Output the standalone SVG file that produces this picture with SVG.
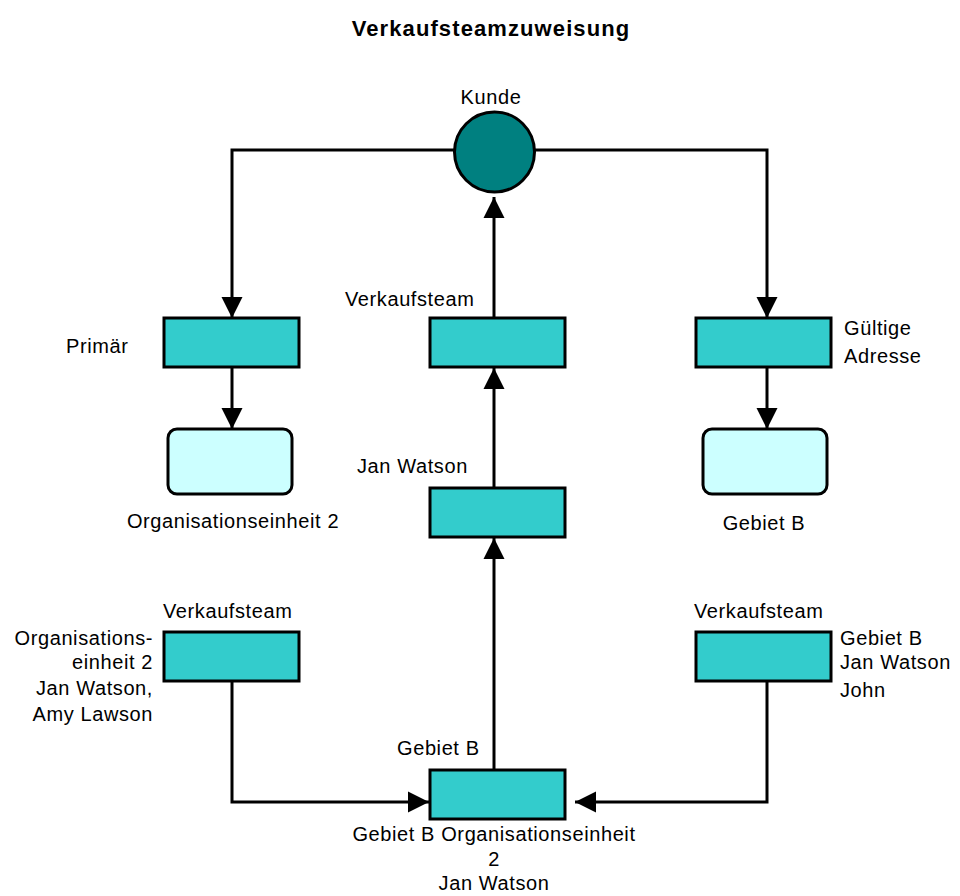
<svg xmlns="http://www.w3.org/2000/svg" width="960" height="896" viewBox="0 0 960 896">
<defs>
<style>
text{font-family:"Liberation Sans",Arial,sans-serif;font-size:20px;letter-spacing:0.6px;fill:#000}
.title{font-size:22px;font-weight:bold;letter-spacing:1.1px}
.box{fill:#33CCCC;stroke:#000;stroke-width:3}
.rbox{fill:#CCFFFF;stroke:#000;stroke-width:3}
.conn{fill:none;stroke:#000;stroke-width:3;marker-end:url(#arr)}
.m{text-anchor:middle}
.e{text-anchor:end}
</style>
<marker id="arr" markerUnits="userSpaceOnUse" markerWidth="22" markerHeight="22" refX="21" refY="10.5" orient="auto" viewBox="0 0 22 21">
<path d="M0,0 L21,10.5 L0,21 z" fill="#000"/>
</marker>
</defs>
<rect width="960" height="896" fill="#fff"/>
<text class="title m" x="491" y="36">Verkaufsteamzuweisung</text>
<g id="connectors">
<path class="conn" d="M454,150 H232 V318"/>
<path class="conn" d="M535,150 H767 V318"/>
<path class="conn" d="M232,367 V429"/>
<path class="conn" d="M767,367 V429"/>
<path class="conn" d="M494,318 V197"/>
<path class="conn" d="M494,488 V368"/>
<path class="conn" d="M494,769 V538"/>
<path class="conn" d="M232,681 V802 H429"/>
<path class="conn" d="M767,681 V802 H575"/>
</g>
<g id="kunde">
<circle cx="494.5" cy="152" r="40" fill="#008080" stroke="#000" stroke-width="3"/>
<text class="m" x="491" y="104">Kunde</text>
</g>
<g id="primaer">
<rect class="box" x="164" y="318" width="135" height="49"/>
<text x="66" y="353">Primär</text>
</g>
<g id="verkaufsteam-mitte">
<rect class="box" x="430" y="318" width="135" height="49"/>
<text x="345" y="306">Verkaufsteam</text>
</g>
<g id="gueltige-adresse">
<rect class="box" x="696" y="318" width="135" height="49"/>
<text x="844" y="335">Gültige</text>
<text x="844" y="363">Adresse</text>
</g>
<g id="org2">
<rect class="rbox" x="168" y="429" width="124" height="65" rx="9"/>
<text class="m" x="233" y="528">Organisationseinheit 2</text>
</g>
<g id="gebiet-b-top">
<rect class="rbox" x="703" y="429" width="124" height="65" rx="9"/>
<text class="m" x="764" y="530">Gebiet B</text>
</g>
<g id="jan-watson">
<rect class="box" x="430" y="488" width="135" height="49"/>
<text x="357" y="473">Jan Watson</text>
</g>
<g id="verkaufsteam-links">
<rect class="box" x="164" y="632" width="135" height="49"/>
<text x="163" y="618">Verkaufsteam</text>
<text class="e" x="153" y="645">Organisations-</text>
<text class="e" x="153" y="669">einheit 2</text>
<text class="e" x="153" y="695">Jan Watson,</text>
<text class="e" x="153" y="721">Amy Lawson</text>
</g>
<g id="verkaufsteam-rechts">
<rect class="box" x="696" y="632" width="135" height="49"/>
<text x="694" y="618">Verkaufsteam</text>
<text x="840" y="645">Gebiet B</text>
<text x="840" y="669">Jan Watson</text>
<text x="840" y="697">John</text>
</g>
<g id="gebiet-b-unten">
<rect class="box" x="430" y="770" width="135" height="49"/>
<text x="397" y="755">Gebiet B</text>
<text class="m" x="494" y="841">Gebiet B Organisationseinheit</text>
<text class="m" x="494" y="866">2</text>
<text class="m" x="494" y="890">Jan Watson</text>
</g>
</svg>
